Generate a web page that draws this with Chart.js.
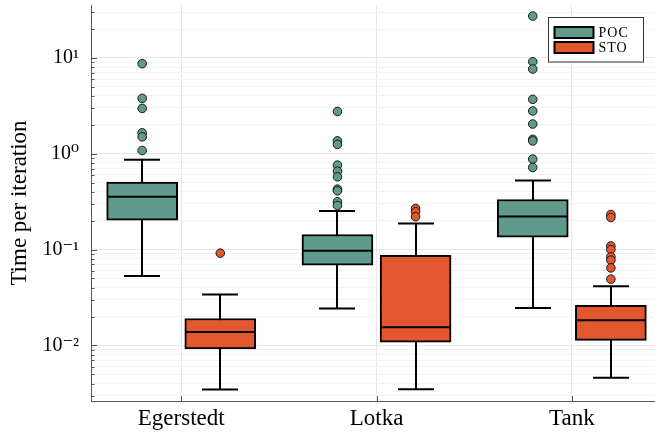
<!DOCTYPE html>
<html>
<head>
<meta charset="utf-8">
<script src="https://cdn.jsdelivr.net/npm/chart.js@4.4.1/dist/chart.umd.min.js"></script>
<style>
  html, body { margin: 0; padding: 0; background: #fff; }
  #wrap { width: 655px; height: 434px; }
</style>
</head>
<body>
<div id="wrap"><canvas id="timeChart"></canvas></div>
<script>
// Box plot data (seconds per iteration)
const categories = ['Egerstedt', 'Lotka', 'Tank'];
const seriesNames = ['POC', 'STO'];

const pocLowerWhisker = [0.0531, 0.0243, 0.0246];
const pocQ1 = [0.203, 0.0687, 0.135];
const pocMedian = [0.355, 0.0969, 0.221];
const pocQ3 = [0.505, 0.1436, 0.333];
const pocUpperWhisker = [0.863, 0.253, 0.526];
const pocOutliers = [
    [8.7, 3.78, 2.97, 1.65, 1.5, 1.08],
    [2.76, 1.36, 1.25, 0.76, 0.658, 0.574, 0.427, 0.41, 0.315, 0.288],
    [27.3, 9.11, 7.64, 3.69, 2.79, 2.04, 1.41, 1.36, 0.878, 0.719]
];

const stoLowerWhisker = [0.00346, 0.00348, 0.00461];
const stoQ1 = [0.00918, 0.01079, 0.0113];
const stoMedian = [0.0138, 0.01546, 0.0183];
const stoQ3 = [0.0191, 0.0873, 0.0262];
const stoUpperWhisker = [0.034, 0.187, 0.0415];
const stoOutliers = [
    [0.0917],
    [0.268, 0.248, 0.220],
    [0.232, 0.216, 0.109, 0.100, 0.0838, 0.0775, 0.0644, 0.0491]
];

const yDecades = [0.01, 0.1, 1, 10];
const yDecadeLabels = ['10⁻²', '10⁻¹', '10⁰', '10¹'];

// styling
const SERIF = "'Liberation Serif', 'DejaVu Serif', serif";
const POC_COLOR = '#5f9a8c';
const STO_COLOR = '#e2572e';
const AXIS_COLOR = '#555555';
const GROUP_SHIFT = 0.2;
const BOX_WIDTH = 71;
const CAP_WIDTH = 36;
const Y_MIN = 0.00263;
const Y_MAX = 35.6;

Chart.defaults.font.family = SERIF;
Chart.defaults.color = '#000';

// every 1..9 x 10^k inside the axis range, for minor grid lines
const yGridValues = [];
[0.001, 0.01, 0.1, 1, 10].forEach(d => {
    for (let k = 1; k <= 9; k++) {
        const v = +(d * k).toPrecision(3);
        if (v >= Y_MIN && v <= Y_MAX) yGridValues.push(v);
    }
});

function isDecade(v) {
    const l = Math.log10(v);
    return Math.abs(l - Math.round(l)) < 1e-9;
}

function boxData(q1, q3, shift) {
    return categories.map((c, i) => ({ x: i + 1 + shift, y: [q1[i], q3[i]] }));
}

function outlierData(lists, shift) {
    const pts = [];
    lists.forEach((vals, i) => vals.forEach(v => pts.push({ x: i + 1 + shift, y: v })));
    return pts;
}

const boxSeries = [
    { name: seriesNames[0], color: POC_COLOR, shift: -GROUP_SHIFT, lower: pocLowerWhisker, median: pocMedian, upper: pocUpperWhisker },
    { name: seriesNames[1], color: STO_COLOR, shift: GROUP_SHIFT, lower: stoLowerWhisker, median: stoMedian, upper: stoUpperWhisker }
];

// whiskers under the boxes, medians on top, inward ticks and framed legend
const boxPlotPlugin = {
    id: 'boxPlot',
    beforeDatasetsDraw(chart) {
        const { ctx, scales: { x, y } } = chart;
        ctx.save();
        ctx.strokeStyle = '#000';
        ctx.lineWidth = 2;
        boxSeries.forEach(s => {
            categories.forEach((c, i) => {
                const px = Math.round(x.getPixelForValue(i + 1 + s.shift));
                const lo = y.getPixelForValue(s.lower[i]);
                const hi = y.getPixelForValue(s.upper[i]);
                ctx.beginPath();
                ctx.moveTo(px, lo); ctx.lineTo(px, hi);
                ctx.moveTo(px - CAP_WIDTH / 2, lo); ctx.lineTo(px + CAP_WIDTH / 2, lo);
                ctx.moveTo(px - CAP_WIDTH / 2, hi); ctx.lineTo(px + CAP_WIDTH / 2, hi);
                ctx.stroke();
            });
        });
        ctx.restore();
    },
    afterDatasetsDraw(chart) {
        const { ctx, scales: { x, y } } = chart;
        ctx.save();
        ctx.strokeStyle = '#000';
        ctx.lineWidth = 2;
        boxSeries.forEach(s => {
            categories.forEach((c, i) => {
                const px = Math.round(x.getPixelForValue(i + 1 + s.shift));
                const py = y.getPixelForValue(s.median[i]);
                ctx.beginPath();
                ctx.moveTo(px - BOX_WIDTH / 2 + 1, py);
                ctx.lineTo(px + BOX_WIDTH / 2 - 1, py);
                ctx.stroke();
            });
        });
        ctx.restore();
    },
    afterDraw(chart) {
        const { ctx, chartArea: area, scales: { x, y } } = chart;
        ctx.save();
        ctx.strokeStyle = AXIS_COLOR;
        ctx.lineWidth = 1;
        ctx.beginPath();
        yGridValues.forEach(v => {
            const py = Math.round(y.getPixelForValue(v)) + 0.5;
            ctx.moveTo(area.left, py);
            ctx.lineTo(area.left + (isDecade(v) ? 6 : 3.5), py);
        });
        categories.forEach((c, i) => {
            const px = Math.round(x.getPixelForValue(i + 1)) + 0.5;
            ctx.moveTo(px, area.bottom);
            ctx.lineTo(px, area.bottom - 5);
        });
        ctx.stroke();

        // legend
        const lx = area.right - 106.5, ly = area.top + 12.5;
        ctx.fillStyle = '#fff';
        ctx.fillRect(lx, ly, 95, 44.5);
        ctx.strokeStyle = '#333';
        ctx.strokeRect(lx, ly, 95, 44.5);
        ctx.font = '14px ' + SERIF;
        ctx.textBaseline = 'middle';
        ctx.textAlign = 'left';
        ctx.letterSpacing = '1px';
        boxSeries.forEach((s, k) => {
            const sy = ly + 9.5 + k * 15;
            ctx.fillStyle = s.color;
            ctx.fillRect(lx + 6, sy, 39, 11);
            ctx.strokeStyle = '#000';
            ctx.lineWidth = 2;
            ctx.strokeRect(lx + 6, sy, 39, 11);
            ctx.fillStyle = '#000';
            ctx.fillText(s.name, lx + 50, sy + 6);
        });
        ctx.restore();
    }
};

const ctx = document.getElementById('timeChart');
new Chart(ctx, {
    type: 'bar',
    data: {
        datasets: [
            {
                label: seriesNames[0],
                data: boxData(pocQ1, pocQ3, -GROUP_SHIFT),
                backgroundColor: POC_COLOR,
                borderColor: '#000',
                borderWidth: 2,
                borderSkipped: false,
                barThickness: BOX_WIDTH,
                grouped: false
            },
            {
                label: seriesNames[1],
                data: boxData(stoQ1, stoQ3, GROUP_SHIFT),
                backgroundColor: STO_COLOR,
                borderColor: '#000',
                borderWidth: 2,
                borderSkipped: false,
                barThickness: BOX_WIDTH,
                grouped: false
            },
            {
                type: 'scatter',
                label: seriesNames[0] + ' outliers',
                data: outlierData(pocOutliers, -GROUP_SHIFT),
                backgroundColor: POC_COLOR,
                borderColor: '#1a1a1a',
                borderWidth: 1,
                pointRadius: 4.3
            },
            {
                type: 'scatter',
                label: seriesNames[1] + ' outliers',
                data: outlierData(stoOutliers, GROUP_SHIFT),
                backgroundColor: STO_COLOR,
                borderColor: '#1a1a1a',
                borderWidth: 1,
                pointRadius: 4.3
            }
        ]
    },
    options: {
        responsive: true,
        maintainAspectRatio: false,
        animation: false,
        layout: { autoPadding: false, padding: { top: 5, right: 0, left: 0, bottom: 0 } },
        plugins: {
            legend: { display: false },
            tooltip: { enabled: false },
            title: { display: false }
        },
        scales: {
            x: {
                type: 'linear',
                min: 0.538,
                max: 3.426,
                offset: false,
                afterBuildTicks: s => { s.ticks = categories.map((c, i) => ({ value: i + 1 })); },
                afterFit: s => { s.height = 33; s.paddingLeft = 0; s.paddingRight = 0; },
                ticks: {
                    autoSkip: false,
                    maxRotation: 0,
                    padding: 4,
                    font: { size: 23, lineHeight: 1.2 },
                    callback: v => categories[Math.round(v) - 1] ?? ''
                },
                grid: { offset: false, drawTicks: false, color: '#e6e6e6' },
                border: { display: true, color: AXIS_COLOR, width: 1 }
            },
            y: {
                type: 'logarithmic',
                min: Y_MIN,
                max: Y_MAX,
                afterBuildTicks: s => { s.ticks = yGridValues.map(v => ({ value: v })); },
                afterFit: s => { s.width = 91; s.paddingTop = 0; s.paddingBottom = 0; },
                ticks: {
                    autoSkip: false,
                    padding: 12,
                    font: { size: 20 },
                    callback: v => {
                        const k = yDecades.findIndex(d => Math.abs(d - v) / d < 1e-6);
                        return k >= 0 ? yDecadeLabels[k] : '';
                    }
                },
                grid: {
                    drawTicks: false,
                    color: c => (c.tick && isDecade(c.tick.value)) ? '#e6e6e6' : '#f3f3f3'
                },
                border: { display: true, color: AXIS_COLOR, width: 1 },
                title: {
                    display: true,
                    text: 'Time per iteration',
                    font: { size: 23, lineHeight: 1.2 },
                    padding: { top: 6, bottom: 0 }
                }
            }
        }
    },
    plugins: [boxPlotPlugin]
});
</script>
</body>
</html>
